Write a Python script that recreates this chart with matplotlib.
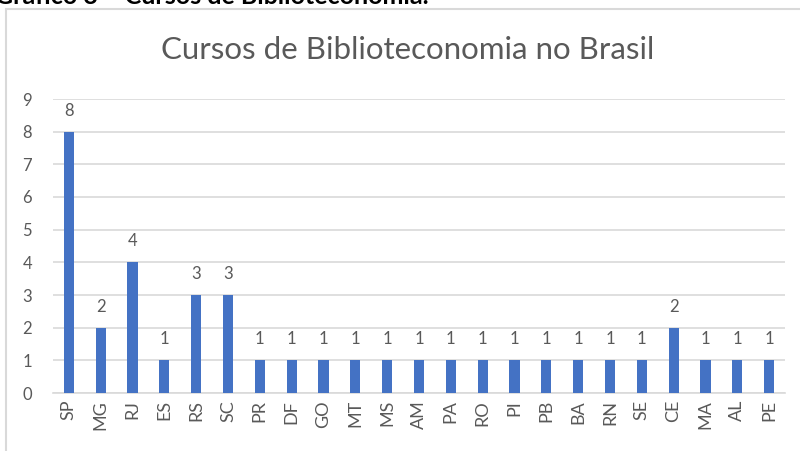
import matplotlib
matplotlib.use('Agg')
import matplotlib.pyplot as plt
import matplotlib.patches as patches

# dados do gráfico
estados = ['SP', 'MG', 'RJ', 'ES', 'RS', 'SC', 'PR', 'DF', 'GO', 'MT', 'MS', 'AM',
           'PA', 'RO', 'PI', 'PB', 'BA', 'RN', 'SE', 'CE', 'MA', 'AL', 'PE']
cursos = [8, 2, 4, 1, 3, 3, 1, 1, 1, 1, 1, 1, 1, 1, 1, 1, 1, 1, 1, 2, 1, 1, 1]
titulo = 'Cursos de Biblioteconomia no Brasil'
legenda_topo = 'Gráfico 3 – Cursos de Biblioteconomia.'

plt.rcParams['font.family'] = ['Lato', 'DejaVu Sans']
cor_texto = '#595959'
cor_barra = '#4472C4'
cor_grade = '#D9D9D9'

fig = plt.figure(figsize=(8, 4.51), dpi=100)
ax = fig.add_axes([53 / 800, 1 - 393 / 451, (785 - 53) / 800, (393 - 99) / 451])

# moldura do gráfico (cortada à direita e embaixo)
moldura = patches.Rectangle((6 / 800, -0.1), 1.2, 1 - 9 / 451 + 0.1,
                            transform=fig.transFigure, fill=False,
                            edgecolor=cor_grade, linewidth=1.5)
fig.patches.append(moldura)

x = range(len(estados))
ax.bar(x, cursos, width=0.32, color=cor_barra, zorder=3)

for xi, v in zip(x, cursos):
    ax.annotate(str(v), (xi, v), xytext=(0, 15), textcoords='offset points',
                ha='center', va='center', fontsize=12, color=cor_texto)

ax.set_xlim(-0.5, len(estados) - 0.5)
ax.set_ylim(0, 9)
ax.set_yticks(range(0, 10))
ax.set_xticks(list(x))
ax.set_xticklabels(estados, rotation=90)
ax.tick_params(axis='y', length=0, pad=15, labelsize=12, labelcolor=cor_texto)
ax.tick_params(axis='x', length=0, pad=5, labelsize=13, labelcolor=cor_texto)
ax.grid(axis='y', color=cor_grade, linewidth=1.2, zorder=0)
for lado in ['top', 'right', 'left']:
    ax.spines[lado].set_visible(False)
ax.spines['bottom'].set_color(cor_grade)
ax.spines['bottom'].set_linewidth(1.2)

fig.text(408 / 800, 1 - 50 / 451, titulo, ha='center', va='center',
         fontsize=22.5, color=cor_texto)
# legenda do documento, cortada no topo como na imagem original
fig.text(-5 / 800, 1 - 4 / 451, legenda_topo, ha='left', va='baseline',
         fontsize=18, fontweight='bold', color='black')

fig.savefig('out.png', dpi=100)
